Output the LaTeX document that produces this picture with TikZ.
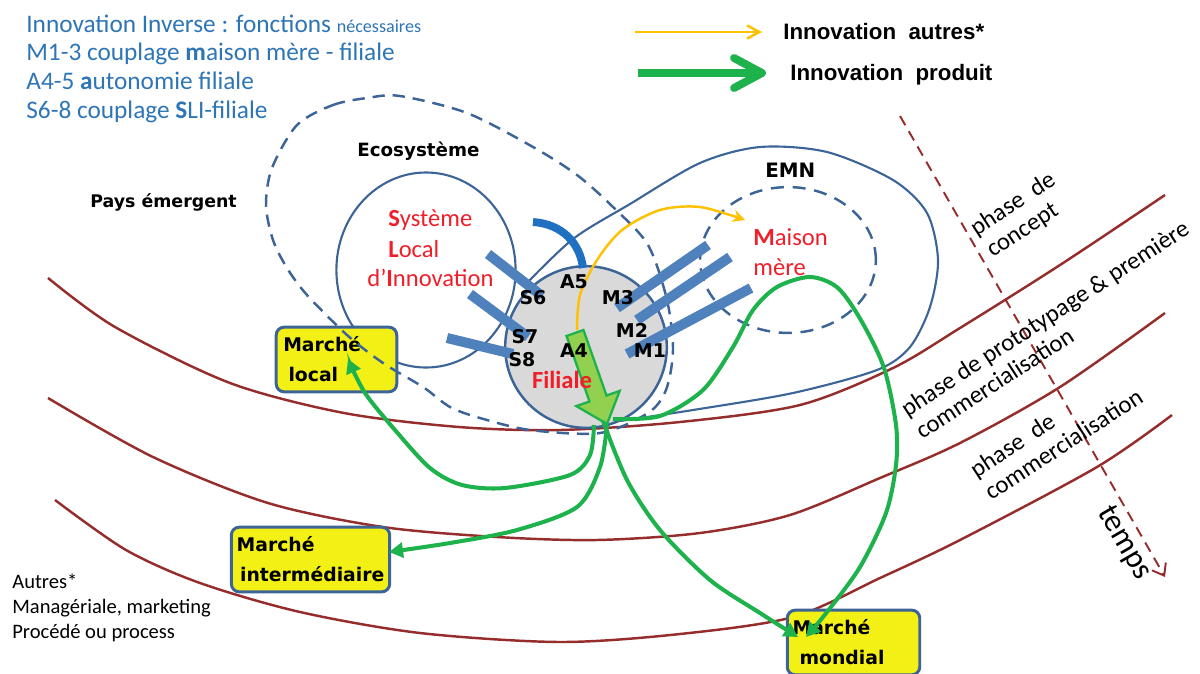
\documentclass[tikz,border=0pt]{standalone}
\usepackage{fontspec}
\setmainfont{Carlito}
\newfontfamily\dvs{DejaVu Sans}
\newfontfamily\lib{Liberation Sans}
\usetikzlibrary{arrows.meta,shapes.geometric}
\definecolor{dred}{RGB}{150,45,45}
\definecolor{oblue}{RGB}{60,100,150}
\definecolor{barblue}{RGB}{79,129,189}
\definecolor{arcblue}{RGB}{31,112,193}
\definecolor{ggreen}{RGB}{30,178,76}
\definecolor{lgreen}{RGB}{146,208,80}
\definecolor{yarrow}{RGB}{255,192,0}
\definecolor{ybox}{RGB}{243,240,22}
\definecolor{lgray}{RGB}{217,217,217}
\definecolor{tblue}{RGB}{46,117,182}
\definecolor{tred}{RGB}{240,30,40}
\tikzset{
  phasecurve/.style={draw=dred, line width=1.4pt},
  ecodash/.style={draw=oblue, line width=1.4pt, dash pattern=on 7pt off 4.5pt},
  mmdash/.style={draw=oblue, line width=1.4pt, dash pattern=on 7.4pt off 5pt},
  outline/.style={draw=oblue, line width=1.2pt},
  bar/.style={draw=barblue, line width=5.7pt},
  arcbar/.style={draw=arcblue, line width=4.5pt},
  garrow/.style={draw=ggreen, line width=2.3pt, -{Triangle[length=8pt,width=8.5pt]}},
  yarr/.style={draw=yarrow, line width=1.4pt, -{Stealth[length=7pt,width=7pt]}},
  market/.style={draw=oblue, line width=1.7pt, fill=ybox, rounded corners=4.5pt,
    align=left, inner ysep=0pt, minimum height=36.8pt,
    font=\dvs\bfseries\fontsize{10.7}{17}\selectfont},
  lbl/.style={font=\dvs\bfseries\fontsize{10.8}{13}\selectfont, inner sep=0pt},
  biglbl/.style={font=\dvs\bfseries\fontsize{10.4}{13}\selectfont, inner sep=0pt, anchor=base west},
  redtxt/.style={text=tred, font=\fontsize{14}{17}\selectfont, inner sep=0pt, anchor=base west},
  bluetxt/.style={text=tblue, font=\fontsize{14.4}{17}\selectfont, inner sep=0pt, anchor=base west},
  blacktxt/.style={font=\fontsize{11.7}{14}\selectfont, inner sep=0pt, anchor=base west},
  legtxt/.style={font=\lib\bfseries\fontsize{12.7}{15}\selectfont, inner sep=0pt, anchor=base west},
  phase/.style={font=\fontsize{14}{15.4}\selectfont, inner sep=0pt, align=left, anchor=base west, rotate=33}
}
\begin{document}
\begin{tikzpicture}[x=0.02cm,y=-0.02cm]
\useasboundingbox (0,0) rectangle (1200,673);

% phase curves
\draw[phasecurve] plot[smooth] coordinates {(48,278) (115,327) (230,383) (344,413) (459,427) (560,430) (680,422) (800,405) (893,368) (960,328) (1060,265) (1165,195)};
\draw[phasecurve] plot[smooth] coordinates {(48,398) (153,457) (268,503) (383,527) (497,537) (597,540) (700,533) (790,515) (880,478) (960,443) (1060,387) (1165,313)};
\draw[phasecurve] plot[smooth] coordinates {(55,500) (126,550) (200,583) (300,612) (420,633) (560,642) (680,634) (793,617) (880,578) (960,540) (1097,467) (1172,415)};

% temps arrow
\coordinate (ts) at (900,116);
\coordinate (te) at (1165,577);
\draw[draw=dred, line width=1.1pt, dash pattern=on 6pt off 4pt, -{Straight Barb[length=6pt,width=9pt]}] (ts) -- (te);
\node[rotate=-60, font=\fontsize{18}{20}\selectfont, inner sep=0pt] (temps) at (1124,543) {temps};

% EMN outline
\draw[outline] plot[smooth] coordinates {(523,287) (573,239) (630,204) (700,163) (760,147) (827,152) (893,180) (927,213) (938,260) (930,307) (910,347) (877,370) (793,393) (693,410) (620,421)};

% SLI ellipse
\node[ellipse, outline, minimum width=102pt, minimum height=111pt, inner sep=0pt] (sli) at (426,270) {};
% Maison mere ellipse
\node[ellipse, mmdash, minimum width=100pt, minimum height=83pt, inner sep=0pt] (mm) at (788,260) {};

% markets
\node[market, minimum width=68.6pt, text width=60.6pt, inner xsep=4pt] (local) at (336.5,359.5) {Marché\\\hspace*{3pt}local};
\node[market, minimum width=90.1pt, text width=84.1pt, inner xsep=3pt] (inter) at (310.5,559.5) {Marché\\\hspace*{2pt}intermédiaire};
\node[market, minimum width=75.4pt, text width=69.4pt, inner xsep=3pt] (mond) at (853.5,642.5) {Marché\\\hspace*{4pt}mondial};

% ecosystem dashed
\draw[ecodash] plot[smooth cycle] coordinates {(297,125) (333,105) (367,98) (400,96) (467,113) (533,147) (577,175) (613,207) (648,245) (667,300) (673,350) (666,390) (648,413) (600,433) (530,430) (480,418) (450,407) (423,387) (383,363) (347,335) (307,295) (287,268) (273,240) (266,205) (272,168)};

% Filiale circle
\node[circle, fill=lgray, draw=oblue, line width=1.4pt, minimum size=92pt, inner sep=0pt] (fil) at (586,347) {};

% bars
\coordinate (s6a) at (488,254); \coordinate (s6b) at (542,296);
\coordinate (s7a) at (470,294); \coordinate (s7b) at (528,337);
\coordinate (s8a) at (447,338); \coordinate (s8b) at (513,354);
\coordinate (m3a) at (617,308); \coordinate (m3b) at (708,245);
\coordinate (m2a) at (637,320); \coordinate (m2b) at (730,257);
\coordinate (m1a) at (627,354); \coordinate (m1b) at (751,288);
\draw[bar] (s6a) -- (s6b);
\draw[bar] (s7a) -- (s7b);
\draw[bar] (s8a) -- (s8b);
\draw[bar] (m3a) -- (m3b);
\draw[bar] (m2a) -- (m2b);
\draw[bar] (m1a) -- (m1b);
\coordinate (a5s) at (533,222); \coordinate (a5e) at (583,268);
\draw[arcbar] (a5s) .. controls (562,224) and (580,243) .. (a5e);

% yellow arrow
\coordinate (ys) at (577,330);
\coordinate (ye) at (745,220);
\draw[yarr] plot[smooth] coordinates {(ys) (580,295) (597,260) (622,230) (660,210) (700,207) (ye)};

% block arrow
\coordinate (tip) at (607,424);
\filldraw[fill=lgreen, draw=ggreen, line width=1.3pt] (566.5,336) -- (583.5,330) -- (606.5,395.5) -- (619.7,390.9) -- (tip) -- (576.3,406.1) -- (589.5,401.5) -- cycle;

% circle labels
\node[lbl] (A5) at (574,282) {A5};
\node[lbl] (S6) at (533,298) {S6};
\node[lbl] (M3) at (618,298) {M3};
\node[lbl] (S7) at (525,337) {S7};
\node[lbl] (M2) at (632,330) {M2};
\node[lbl] (S8) at (522,360) {S8};
\node[lbl] (A4) at (574,351) {A4};
\node[lbl] (M1) at (650,351) {M1};
\node[text=tred, font=\bfseries\fontsize{14}{16}\selectfont, inner sep=0pt] (filt) at (562,380) {Filiale};

% green curves
\coordinate (g1s) at (613,419); \coordinate (g1e) at (806,637);
\coordinate (g2s) at (603,421); \coordinate (g2e) at (798,637);
\coordinate (g3s) at (607,425); \coordinate (g3e) at (389,552);
\coordinate (g4s) at (594,425); \coordinate (g4e) at (348,359);
\draw[garrow] plot[smooth] coordinates {(g1s) (660,416) (703,390) (733,347) (753,310) (777,287) (810,277) (838,288) (862,322) (884,368) (896,425) (896,465) (886,513) (860,567) (827,612) (g1e)};
\draw[garrow] plot[smooth] coordinates {(g2s) (627,480) (660,530) (710,580) (760,613) (g2e)};
\draw[garrow] plot[smooth] coordinates {(g3s) (600,467) (577,507) (517,530) (450,543) (g3e)};
\draw[garrow] plot[smooth] coordinates {(g4s) (590,455) (570,475) (505,488) (462,485) (430,468) (395,430) (365,393) (g4e)};

% region labels
\node[biglbl] (eco) at (357,156) {Ecosystème};
\node[biglbl, font=\dvs\bfseries\fontsize{9.9}{12}\selectfont] (pays) at (90,207) {Pays émergent};
\node[biglbl, font=\dvs\bfseries\fontsize{11.3}{13}\selectfont] (emn) at (765,177) {EMN};
\node[redtxt] (sli1) at (388,226) {\textbf{S}ystème};
\node[redtxt] (sli2) at (388,257) {\textbf{L}ocal};
\node[redtxt] (sli3) at (367,286) {d’\textbf{I}nnovation};
\node[redtxt] (mm1) at (753,245) {\textbf{M}aison};
\node[redtxt] (mm2) at (753,275) {mère};

% top-left text
\node[bluetxt] (t1) at (26,32) {Innovation Inverse : fonctions {\fontsize{10.3}{12}\selectfont nécessaires}};
\node[bluetxt] (t2) at (26,60) {M1-3 couplage \textbf{m}aison mère - filiale};
\node[bluetxt] (t3) at (26,89) {A4-5 \textbf{a}utonomie filiale};
\node[bluetxt] (t4) at (26,118) {S6-8 couplage \textbf{S}LI-filiale};

% legend
\coordinate (ly1) at (635,32); \coordinate (ly2) at (762,32);
\draw[draw=yarrow, line width=1.4pt, -{Straight Barb[length=7pt,width=7.5pt]}] (ly1) -- (ly2);
\node[legtxt] (leg1) at (783,39) {Innovation~~autres*};
\coordinate (lg1) at (638,73); \coordinate (lg2) at (755,73);
\coordinate (lc1) at (734,58); \coordinate (lc2) at (762,73); \coordinate (lc3) at (734,88);
\draw[draw=ggreen, line width=5pt] (lg1) -- (lg2);
\draw[draw=ggreen, line width=4.5pt, line cap=round, line join=round] (lc1) -- (lc2) -- (lc3);
\node[legtxt] (leg2) at (790,80) {Innovation~~produit};

% bottom-left text
\node[blacktxt] (b1) at (12,588) {Autres*};
\node[blacktxt] (b2) at (12,613) {Managériale, marketing};
\node[blacktxt] (b3) at (12,638) {Procédé ou process};

% phase labels (anchor at baseline of the last line)
\node[phase] (p1) at (991,259) {phase~~de\\\hspace*{1pt}concept};
\node[phase] (p2) at (922,440) {phase de prototypage \& première\\commercialisation};
\node[phase] (p3) at (991,501) {phase~~de\\commercialisation};
\end{tikzpicture}
\end{document}
